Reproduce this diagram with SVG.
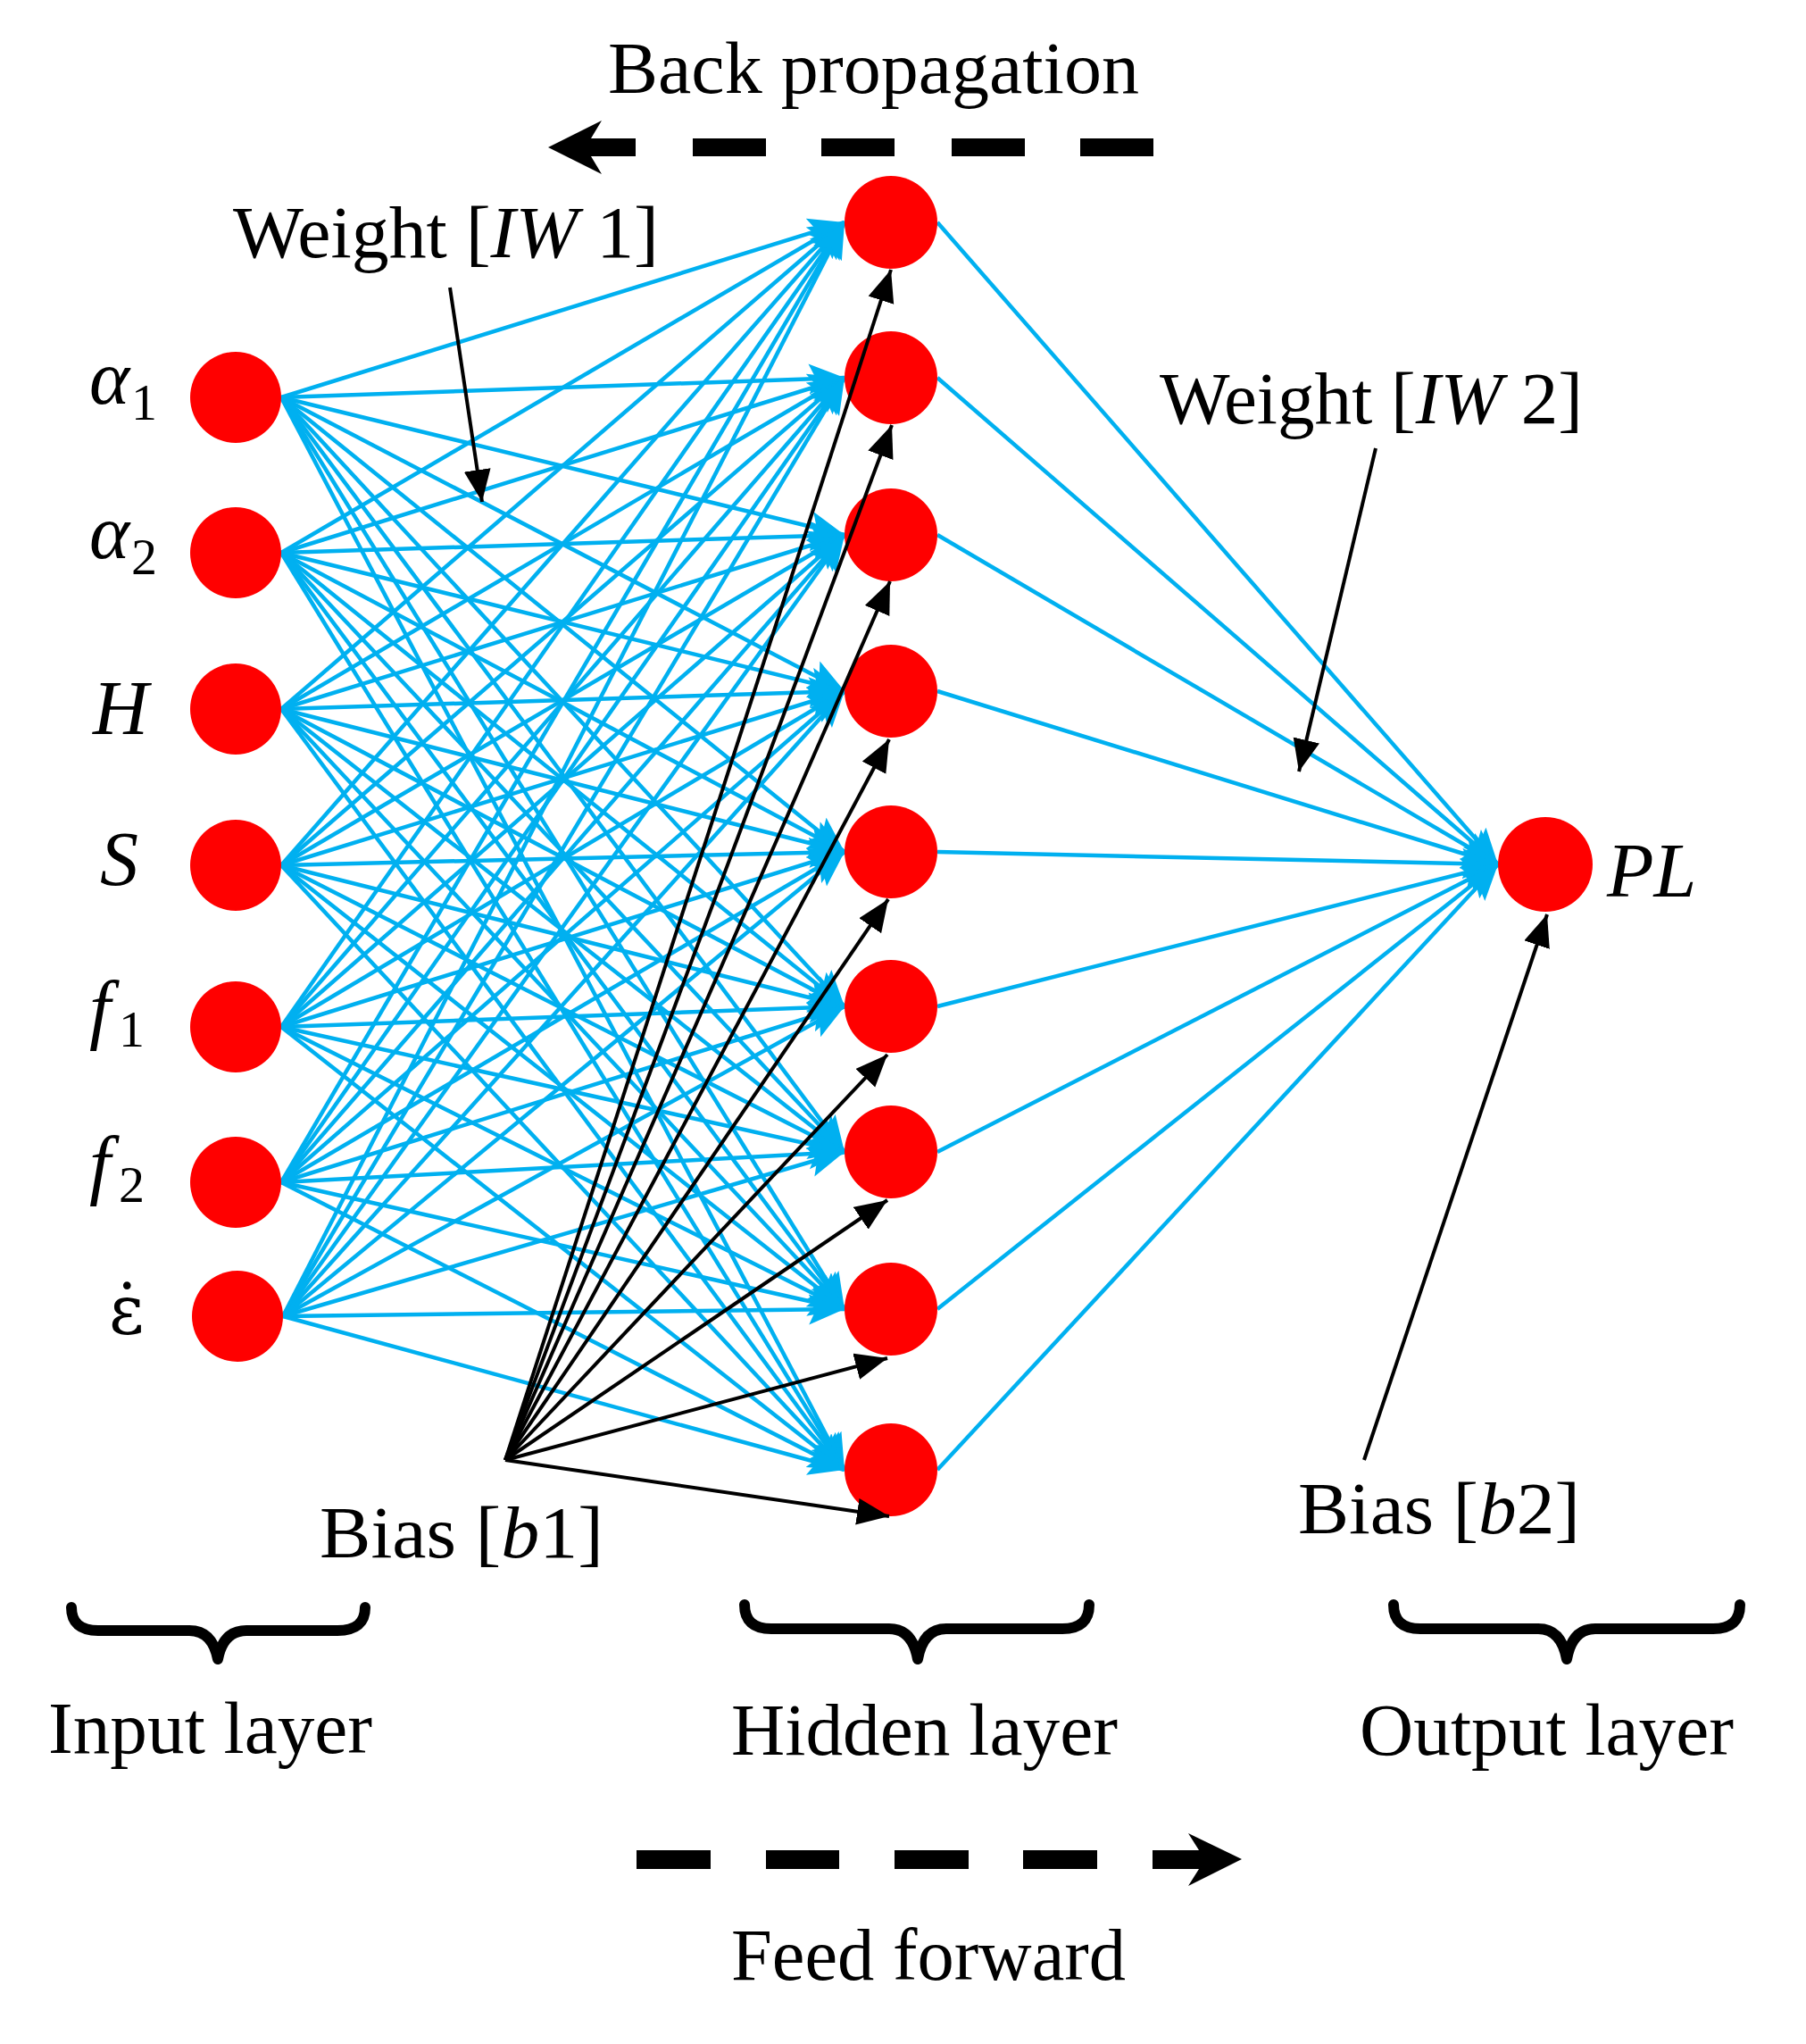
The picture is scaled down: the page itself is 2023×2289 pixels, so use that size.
<svg xmlns="http://www.w3.org/2000/svg" width="2023" height="2289" viewBox="0 0 2023 2289">
<style>
.t{font-family:"Liberation Serif","Times New Roman",serif;font-size:82px;fill:#000}
.m{font-family:"Liberation Serif","Times New Roman",serif;font-size:86px;fill:#000}
.e{font-family:"DejaVu Serif","Liberation Serif",serif;font-size:76px;fill:#000}
.i{font-style:italic}
.sub{font-family:"Liberation Serif","Times New Roman",serif;font-size:58px;fill:#000}
.node{fill:#ff0000}
.w{stroke:#00b0f0;stroke-width:4.5;fill:none;marker-end:url(#ba)}
.b{stroke:#000;stroke-width:4;fill:none;marker-end:url(#ka)}
.brace{stroke:#000;stroke-width:12;fill:none;stroke-linecap:round;stroke-linejoin:round}
</style>
<defs>
<marker id="ba" markerUnits="userSpaceOnUse" markerWidth="44" markerHeight="36" refX="40" refY="17" orient="auto">
<path d="M0,0 L40,17 L0,34 L8,17 z" fill="#00b0f0"/>
</marker>
<marker id="ka" markerUnits="userSpaceOnUse" markerWidth="40" markerHeight="32" refX="36" refY="15" orient="auto">
<path d="M0,0 L36,15 L0,30 z" fill="#000"/>
</marker>
</defs>
<rect width="2023" height="2289" fill="#fff"/>

<g id="connectors-weights">
<line class="w" x1="315" y1="445" x2="946" y2="249"/><line class="w" x1="315" y1="445" x2="946" y2="423"/><line class="w" x1="315" y1="445" x2="946" y2="599"/><line class="w" x1="315" y1="445" x2="946" y2="774"/><line class="w" x1="315" y1="445" x2="946" y2="954"/><line class="w" x1="315" y1="445" x2="946" y2="1127"/><line class="w" x1="315" y1="445" x2="946" y2="1290"/><line class="w" x1="315" y1="445" x2="946" y2="1466"/><line class="w" x1="315" y1="445" x2="946" y2="1646"/>
<line class="w" x1="315" y1="619" x2="946" y2="249"/><line class="w" x1="315" y1="619" x2="946" y2="423"/><line class="w" x1="315" y1="619" x2="946" y2="599"/><line class="w" x1="315" y1="619" x2="946" y2="774"/><line class="w" x1="315" y1="619" x2="946" y2="954"/><line class="w" x1="315" y1="619" x2="946" y2="1127"/><line class="w" x1="315" y1="619" x2="946" y2="1290"/><line class="w" x1="315" y1="619" x2="946" y2="1466"/><line class="w" x1="315" y1="619" x2="946" y2="1646"/>
<line class="w" x1="315" y1="794" x2="946" y2="249"/><line class="w" x1="315" y1="794" x2="946" y2="423"/><line class="w" x1="315" y1="794" x2="946" y2="599"/><line class="w" x1="315" y1="794" x2="946" y2="774"/><line class="w" x1="315" y1="794" x2="946" y2="954"/><line class="w" x1="315" y1="794" x2="946" y2="1127"/><line class="w" x1="315" y1="794" x2="946" y2="1290"/><line class="w" x1="315" y1="794" x2="946" y2="1466"/><line class="w" x1="315" y1="794" x2="946" y2="1646"/>
<line class="w" x1="315" y1="969" x2="946" y2="249"/><line class="w" x1="315" y1="969" x2="946" y2="423"/><line class="w" x1="315" y1="969" x2="946" y2="599"/><line class="w" x1="315" y1="969" x2="946" y2="774"/><line class="w" x1="315" y1="969" x2="946" y2="954"/><line class="w" x1="315" y1="969" x2="946" y2="1127"/><line class="w" x1="315" y1="969" x2="946" y2="1290"/><line class="w" x1="315" y1="969" x2="946" y2="1466"/><line class="w" x1="315" y1="969" x2="946" y2="1646"/>
<line class="w" x1="315" y1="1150" x2="946" y2="249"/><line class="w" x1="315" y1="1150" x2="946" y2="423"/><line class="w" x1="315" y1="1150" x2="946" y2="599"/><line class="w" x1="315" y1="1150" x2="946" y2="774"/><line class="w" x1="315" y1="1150" x2="946" y2="954"/><line class="w" x1="315" y1="1150" x2="946" y2="1127"/><line class="w" x1="315" y1="1150" x2="946" y2="1290"/><line class="w" x1="315" y1="1150" x2="946" y2="1466"/><line class="w" x1="315" y1="1150" x2="946" y2="1646"/>
<line class="w" x1="315" y1="1324" x2="946" y2="249"/><line class="w" x1="315" y1="1324" x2="946" y2="423"/><line class="w" x1="315" y1="1324" x2="946" y2="599"/><line class="w" x1="315" y1="1324" x2="946" y2="774"/><line class="w" x1="315" y1="1324" x2="946" y2="954"/><line class="w" x1="315" y1="1324" x2="946" y2="1127"/><line class="w" x1="315" y1="1324" x2="946" y2="1290"/><line class="w" x1="315" y1="1324" x2="946" y2="1466"/><line class="w" x1="315" y1="1324" x2="946" y2="1646"/>
<line class="w" x1="317" y1="1474" x2="946" y2="249"/><line class="w" x1="317" y1="1474" x2="946" y2="423"/><line class="w" x1="317" y1="1474" x2="946" y2="599"/><line class="w" x1="317" y1="1474" x2="946" y2="774"/><line class="w" x1="317" y1="1474" x2="946" y2="954"/><line class="w" x1="317" y1="1474" x2="946" y2="1127"/><line class="w" x1="317" y1="1474" x2="946" y2="1290"/><line class="w" x1="317" y1="1474" x2="946" y2="1466"/><line class="w" x1="317" y1="1474" x2="946" y2="1646"/>
<line class="w" x1="1050" y1="249" x2="1678" y2="968"/><line class="w" x1="1050" y1="423" x2="1678" y2="968"/><line class="w" x1="1050" y1="599" x2="1678" y2="968"/><line class="w" x1="1050" y1="774" x2="1678" y2="968"/><line class="w" x1="1050" y1="954" x2="1678" y2="968"/><line class="w" x1="1050" y1="1127" x2="1678" y2="968"/><line class="w" x1="1050" y1="1290" x2="1678" y2="968"/><line class="w" x1="1050" y1="1466" x2="1678" y2="968"/><line class="w" x1="1050" y1="1646" x2="1678" y2="968"/>
</g>

<g id="input-a1"><circle class="node" cx="264" cy="445" r="51"/><text class="m i" x="100" y="452">α<tspan class="sub" style="font-style:normal" x="147" y="470">1</tspan></text></g>
<g id="input-a2"><circle class="node" cx="264" cy="619" r="51"/><text class="m i" x="100" y="625">α<tspan class="sub" style="font-style:normal" x="147" y="643">2</tspan></text></g>
<g id="input-H"><circle class="node" cx="264" cy="794" r="51"/><text class="m i" x="104" y="822">H</text></g>
<g id="input-S"><circle class="node" cx="264" cy="969" r="51"/><text class="m i" x="112" y="991">S</text></g>
<g id="input-f1"><circle class="node" cx="264" cy="1150" r="51"/><text class="m i" x="100" y="1158">f<tspan class="sub" style="font-style:normal" x="133" y="1172">1</tspan></text></g>
<g id="input-f2"><circle class="node" cx="264" cy="1324" r="51"/><text class="m i" x="100" y="1332">f<tspan class="sub" style="font-style:normal" x="133" y="1346">2</tspan></text></g>
<g id="input-edot"><circle class="node" cx="266" cy="1474" r="51"/><text class="e" x="122" y="1494">ε̇</text></g>

<g id="hidden-1"><circle class="node" cx="998" cy="249" r="52"/></g>
<g id="hidden-2"><circle class="node" cx="998" cy="423" r="52"/></g>
<g id="hidden-3"><circle class="node" cx="998" cy="599" r="52"/></g>
<g id="hidden-4"><circle class="node" cx="998" cy="774" r="52"/></g>
<g id="hidden-5"><circle class="node" cx="998" cy="954" r="52"/></g>
<g id="hidden-6"><circle class="node" cx="998" cy="1127" r="52"/></g>
<g id="hidden-7"><circle class="node" cx="998" cy="1290" r="52"/></g>
<g id="hidden-8"><circle class="node" cx="998" cy="1466" r="52"/></g>
<g id="hidden-9"><circle class="node" cx="998" cy="1646" r="52"/></g>

<g id="output-PL"><circle class="node" cx="1731" cy="968" r="53"/><text class="m i" x="1800" y="1004">PL</text></g>

<g id="connectors-bias">
<line class="b" x1="566" y1="1635" x2="998" y2="302"/>
<line class="b" x1="566" y1="1635" x2="999" y2="476"/>
<line class="b" x1="566" y1="1635" x2="997" y2="651"/>
<line class="b" x1="566" y1="1635" x2="996" y2="828"/>
<line class="b" x1="566" y1="1635" x2="995" y2="1007"/>
<line class="b" x1="566" y1="1635" x2="994" y2="1181"/>
<line class="b" x1="566" y1="1635" x2="994" y2="1344"/>
<line class="b" x1="566" y1="1635" x2="994" y2="1521"/>
<line class="b" x1="566" y1="1635" x2="996" y2="1698"/>
<line class="b" x1="1528" y1="1635" x2="1733" y2="1024"/>
<line class="b" x1="504" y1="322" x2="540" y2="562"/>
<line class="b" x1="1541" y1="502" x2="1455" y2="864"/>
</g>

<g id="labels">
<text class="t" x="681" y="104" textLength="595" lengthAdjust="spacingAndGlyphs">Back propagation</text>
<text class="t" x="261" y="288" textLength="477" lengthAdjust="spacingAndGlyphs">Weight [<tspan class="i">IW</tspan> 1]</text>
<text class="t" x="1299" y="474" textLength="474" lengthAdjust="spacingAndGlyphs">Weight [<tspan class="i">IW</tspan> 2]</text>
<text class="t" x="358" y="1744" textLength="318" lengthAdjust="spacingAndGlyphs">Bias [<tspan class="i">b</tspan>1]</text>
<text class="t" x="1454" y="1717" textLength="316" lengthAdjust="spacingAndGlyphs">Bias [<tspan class="i">b</tspan>2]</text>
<text class="t" x="54" y="1963" textLength="363" lengthAdjust="spacingAndGlyphs">Input layer</text>
<text class="t" x="819" y="1965" textLength="433" lengthAdjust="spacingAndGlyphs">Hidden layer</text>
<text class="t" x="1523" y="1965" textLength="419" lengthAdjust="spacingAndGlyphs">Output layer</text>
<text class="t" x="819" y="2217" textLength="442" lengthAdjust="spacingAndGlyphs">Feed forward</text>
</g>

<g id="braces">
<path class="brace" d="M80,1800 Q80,1826 110,1826 L212,1826 Q238,1826 244,1858 Q250,1826 276,1826 L378,1826 Q409,1826 409,1800"/>
<path class="brace" d="M834,1797 Q834,1824 864,1824 L996,1824 Q1022,1824 1028,1858 Q1034,1824 1060,1824 L1190,1824 Q1220,1824 1220,1797"/>
<path class="brace" d="M1561,1797 Q1561,1824 1591,1824 L1723,1824 Q1749,1824 1755,1858 Q1761,1824 1787,1824 L1919,1824 Q1949,1824 1949,1797"/>
</g>

<g id="back-propagation-arrow" fill="#000">
<polygon points="712,155 662,155 674,135 614,165 674,195 662,175 712,175"/>
<rect x="776" y="155" width="82" height="20"/>
<rect x="920" y="155" width="82" height="20"/>
<rect x="1066" y="155" width="82" height="20"/>
<rect x="1210" y="155" width="82" height="20"/>
</g>

<g id="feed-forward-arrow" fill="#000">
<rect x="713" y="2072" width="83" height="21"/>
<rect x="858" y="2072" width="82" height="21"/>
<rect x="1002" y="2072" width="83" height="21"/>
<rect x="1146" y="2072" width="83" height="21"/>
<polygon points="1291,2072 1343,2072 1331,2053 1391,2082 1331,2112 1343,2093 1291,2093"/>
</g>
</svg>
